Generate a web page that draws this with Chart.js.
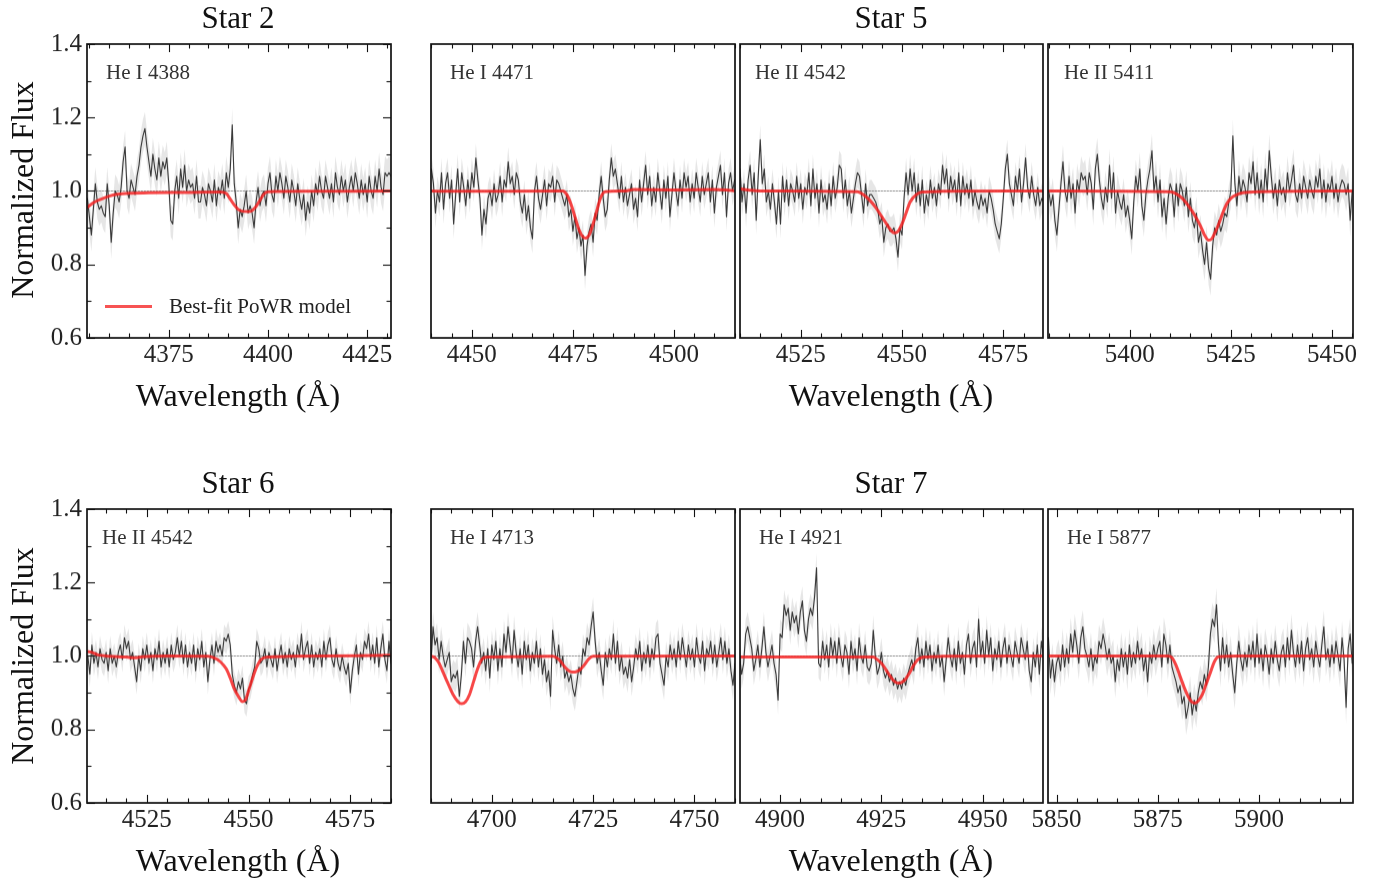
<!DOCTYPE html>
<html>
<head>
<meta charset="utf-8">
<script src="https://cdn.jsdelivr.net/npm/chart.js"></script>
<style>
  body { margin: 0; background: #fff; }
  #fig { position: relative; width: 1380px; height: 879px; overflow: hidden;
         font-family: 'Liberation Serif', 'DejaVu Serif', serif; color: #111; }
  #fig canvas { position: absolute; }
  .txt { position: absolute; white-space: nowrap; line-height: 1; }
  .title { font-size: 31px; transform: translateX(-50%); }
  .xlab { font-size: 32px; transform: translateX(-50%); }
  .ylab { font-size: 32px; transform: translate(-50%, -50%) rotate(-90deg); }
  .line { font-size: 21px; color: #333; }
  .legline { position: absolute; height: 3px; background: rgba(245, 40, 40, 0.8); }
</style>
</head>
<body>
<div id="fig"></div>
<script>
// ---- data ----
const STEP = 0.5; // Å between observed samples
const obsStart = [4354.5, 4440, 4510, 5380, 4510.5, 4685, 4890, 5848];
const xMin = [4354.4, 4439.9, 4510.0, 5379.8, 4510.3, 4685.0, 4890.1, 5847.9];
const xMax = [4431.0, 4515.1, 4584.8, 5455.2, 4585.0, 4760.0, 4964.9, 5923.2];
const xTicks = [
  [4375, 4400, 4425], [4450, 4475, 4500], [4525, 4550, 4575], [5400, 5425, 5450],
  [4525, 4550, 4575], [4700, 4725, 4750], [4900, 4925, 4950], [5850, 5875, 5900]
];
const yTicks = [0.6, 0.8, 1.0, 1.2, 1.4];
const lineNames = ['He I 4388', 'He I 4471', 'He II 4542', 'He II 5411',
                   'He II 4542', 'He I 4713', 'He I 4921', 'He I 5877'];
const starNames = ['Star 2', 'Star 5', 'Star 6', 'Star 7'];
const bandHalf = [0.045, 0.04, 0.04, 0.045, 0.035, 0.04, 0.04, 0.045];

// Star 2, He I 4388
const flux1 = [
  0.98, 0.93, 0.88, 0.95, 1.02, 0.97, 0.95, 0.96, 0.94, 0.93,
  1.02, 0.96, 0.86, 0.94, 1.00, 0.99, 0.97, 1.01, 1.08, 1.12,
  1.00, 0.98, 1.03, 1.01, 0.99, 1.04, 1.07, 1.12, 1.15, 1.17,
  1.12, 1.08, 1.04, 1.10, 1.06, 1.03, 1.09, 1.04, 1.08, 1.06,
  1.09, 1.02, 0.92, 0.91, 1.00, 1.04, 0.98, 1.06, 1.01, 1.07,
  1.00, 1.03, 1.01, 1.02, 0.98, 1.04, 0.97, 0.97, 1.01, 0.99,
  0.96, 1.02, 1.00, 0.97, 1.03, 0.96, 1.01, 0.99, 1.03, 0.98,
  1.05, 1.01, 1.06, 1.18, 1.02, 0.97, 0.90, 0.95, 0.93, 0.96,
  1.00, 0.94, 0.96, 0.94, 0.90, 0.97, 1.01, 0.96, 0.99, 1.00,
  0.96, 1.02, 1.05, 0.99, 0.97, 1.04, 1.00, 1.05, 1.02, 0.98,
  1.04, 1.01, 0.97, 1.03, 1.00, 0.96, 1.02, 0.98, 0.95, 0.99,
  0.92, 0.97, 0.94, 1.00, 0.96, 1.02, 0.99, 1.04, 1.00, 0.98,
  1.04, 1.01, 0.98, 1.02, 0.97, 1.05, 1.01, 0.99, 1.04, 1.00,
  1.03, 0.97, 1.01, 1.04, 1.00, 1.05, 1.02, 0.98, 1.03, 0.99,
  1.02, 0.97, 1.04, 1.00, 0.98, 1.04, 1.00, 1.06, 1.01, 0.99,
  1.05, 1.04, 1.05, 1.04
];
const modelWl1 = [4354.4, 4356, 4358, 4360, 4362, 4365, 4370, 4380, 4388, 4389.5, 4390.5,
  4391.5, 4392.5, 4393.5, 4395, 4396, 4397, 4398, 4399, 4400, 4410, 4431];
const modelFlux1 = [0.955, 0.968, 0.978, 0.986, 0.991, 0.994, 0.995, 0.996, 0.997, 0.993, 0.978,
  0.962, 0.950, 0.945, 0.944, 0.947, 0.958, 0.975, 0.992, 0.998, 0.999, 1.0];

// Star 5, He I 4471
const flux2 = [
  1.06, 1.02, 0.94, 1.00, 0.97, 1.05, 0.95, 1.02, 1.05, 0.98,
  1.03, 0.91, 0.99, 1.06, 0.97, 1.05, 1.01, 0.96, 1.03, 0.98,
  1.05, 1.01, 1.09, 1.03, 0.98, 0.88, 0.95, 0.91, 0.98, 1.00,
  0.96, 1.02, 0.97, 0.99, 1.04, 0.97, 1.03, 1.01, 1.08, 1.02,
  1.04, 0.99, 1.05, 1.03, 0.97, 0.94, 0.99, 0.92, 0.96, 0.90,
  0.87, 1.00, 1.04, 0.98, 0.95, 0.99, 1.03, 0.96, 1.02, 1.01,
  1.04, 0.97, 1.03, 1.02, 1.00, 0.98, 0.96, 0.99, 0.93, 0.95,
  0.89, 0.93, 0.87, 0.90, 0.85, 0.88, 0.77, 0.85, 0.89, 0.91,
  0.86, 0.94, 0.92, 0.99, 1.04, 0.98, 0.93, 0.95, 1.03, 1.09,
  1.04, 1.06, 1.02, 0.98, 1.04, 0.97, 1.01, 0.96, 0.99, 1.02,
  0.95, 0.98, 0.93, 1.03, 0.97, 1.02, 1.07, 0.99, 1.04, 0.96,
  1.01, 0.97, 1.05, 1.00, 0.95, 1.03, 0.98, 1.04, 0.93, 0.99,
  1.05, 1.00, 0.96, 1.03, 0.98, 1.05, 1.01, 1.04, 0.97, 1.02,
  0.98, 1.05, 1.01, 0.97, 1.04, 0.99, 1.02, 1.05, 0.97, 1.03,
  0.94, 1.01, 1.04, 1.07, 0.99, 1.05, 0.93, 1.02, 1.05, 1.00,
  1.03
];
const modelWl2 = [4439.9, 4445, 4472.5, 4473.5, 4474.5, 4475.5, 4476.5, 4477.5, 4478.2, 4479,
  4480, 4481, 4482, 4483, 4488, 4490, 4500, 4510, 4513, 4515.1];
const modelFlux2 = [1.0, 0.999, 1.0, 0.99, 0.965, 0.93, 0.895, 0.875, 0.872, 0.88,
  0.91, 0.95, 0.985, 0.998, 1.0, 1.004, 1.003, 1.004, 1.003, 1.0];

// Star 5, He II 4542
const flux3 = [
  1.06, 0.97, 1.02, 0.94, 1.03, 1.07, 0.99, 1.05, 0.92, 1.04,
  1.14, 1.02, 1.06, 0.97, 1.00, 0.95, 1.02, 0.97, 0.91, 1.00,
  0.91, 1.04, 0.97, 1.03, 0.96, 1.02, 1.00, 0.97, 1.04, 0.98,
  1.02, 0.95, 1.01, 0.99, 1.05, 0.96, 1.06, 0.98, 1.02, 0.94,
  1.03, 0.97, 0.99, 0.95, 1.02, 0.96, 1.04, 0.98, 1.01, 1.07,
  1.06, 0.98, 1.03, 0.96, 1.00, 0.94, 0.98, 1.02, 1.05, 1.04,
  0.99, 0.94, 1.02, 0.96, 0.99, 0.99, 0.98, 0.97, 0.95, 0.91,
  0.93, 0.86, 0.90, 0.91, 0.89, 0.89, 0.90, 0.87, 0.82, 0.90,
  0.88, 0.98, 1.05, 0.99, 1.06, 1.00, 1.05, 0.97, 1.02, 0.96,
  1.03, 0.94, 0.99, 0.96, 1.03, 0.98, 1.01, 0.96, 1.02, 0.99,
  1.07, 1.02, 1.06, 0.98, 1.04, 1.00, 1.03, 0.97, 1.05, 0.96,
  1.04, 0.99, 1.02, 0.98, 1.03, 0.96, 1.00, 0.97, 0.95, 0.99,
  0.96, 0.98, 0.94, 1.00, 0.98, 0.95, 0.91, 0.89, 0.87, 0.91,
  0.98, 1.06, 1.10, 1.02, 0.99, 0.96, 1.04, 1.00, 1.06, 0.97,
  1.02, 1.09, 1.01, 0.98, 1.04, 0.99, 0.96, 1.01, 0.96, 0.98,
  0.97
];
const modelWl3 = [4510, 4512, 4515, 4539, 4540.5, 4542, 4543.5, 4545, 4546.5, 4547.5, 4548.2,
  4549, 4550, 4551, 4552, 4553.5, 4555, 4560, 4584.8];
const modelFlux3 = [1.006, 1.003, 1.0, 0.998, 0.99, 0.975, 0.955, 0.93, 0.905, 0.89, 0.886,
  0.89, 0.91, 0.94, 0.97, 0.99, 0.997, 0.999, 1.0];

// Star 5, He II 5411
const flux4 = [
  1.00, 0.96, 0.99, 0.92, 0.88, 0.95, 1.02, 1.08, 1.00, 0.97,
  1.04, 0.98, 1.02, 0.94, 1.03, 1.00, 1.05, 1.03, 1.04, 0.99,
  1.05, 1.02, 0.95, 1.06, 1.10, 1.03, 0.98, 0.95, 1.01, 0.97,
  1.07, 0.98, 1.05, 0.94, 1.00, 0.97, 0.95, 0.99, 0.93, 0.96,
  0.92, 0.87, 0.97, 1.04, 1.00, 1.06, 0.96, 0.92, 0.99, 1.03,
  1.06, 1.11, 1.00, 1.04, 0.97, 1.03, 0.93, 0.98, 0.91, 0.98,
  1.02, 1.00, 0.93, 1.02, 0.96, 1.02, 1.00, 0.96, 1.01, 0.93,
  0.98, 0.92, 0.90, 0.94, 0.86, 0.89, 0.84, 0.80, 0.86, 0.79,
  0.76, 0.85, 0.90, 0.88, 0.92, 0.89, 0.91, 0.94, 0.93, 0.97,
  1.00, 1.15, 1.02, 0.96, 1.04, 0.99, 1.03, 1.01, 0.97, 1.05,
  1.02, 1.08, 0.99, 1.05, 0.98, 1.03, 0.97, 1.06, 1.00, 1.11,
  1.04, 0.98, 1.02, 0.96, 1.03, 0.99, 1.01, 0.97, 1.05, 1.00,
  1.03, 1.07, 0.99, 0.97, 1.02, 0.98, 1.04, 1.01, 0.98, 1.03,
  1.00, 0.98, 1.04, 1.01, 1.06, 0.98, 1.03, 0.97, 1.02, 1.00,
  1.04, 0.98, 1.02, 0.97, 1.01, 1.03, 1.02, 0.99, 1.02, 0.92,
  1.00
];
const modelWl4 = [5379.8, 5410, 5411.5, 5413, 5414.5, 5416, 5417.5, 5418.5, 5419.5, 5420.3,
  5421, 5422, 5423, 5424, 5425, 5426.5, 5428, 5432, 5455.2];
const modelFlux4 = [1.0, 0.998, 0.992, 0.98, 0.96, 0.935, 0.905, 0.88, 0.866, 0.87,
  0.885, 0.91, 0.94, 0.965, 0.98, 0.99, 0.995, 0.998, 1.0];

// Star 6, He II 4542
const flux5 = [
  1.00, 0.95, 1.03, 0.98, 1.01, 0.97, 1.02, 0.99, 0.98, 1.01,
  0.96, 1.02, 0.98, 1.00, 0.97, 1.01, 1.03, 0.99, 1.05, 1.02,
  1.04, 0.99, 1.01, 0.97, 0.93, 1.00, 0.96, 1.02, 0.99, 1.03,
  0.98, 1.01, 0.96, 1.02, 0.99, 1.04, 0.97, 1.01, 0.98, 1.02,
  0.97, 1.03, 0.99, 1.01, 1.05, 1.00, 1.04, 0.98, 1.03, 0.97,
  1.01, 0.98, 1.03, 0.96, 1.02, 0.99, 1.04, 0.97, 1.01, 0.93,
  0.99, 1.03, 0.98, 1.04, 1.01, 1.03, 1.00, 1.05, 1.04, 1.06,
  1.03, 0.95, 0.92, 0.90, 0.93, 0.91, 0.94, 0.88, 0.87, 0.91,
  0.92, 0.95, 0.97, 1.04, 1.02, 0.98, 0.99, 1.02, 0.97, 1.01,
  0.99, 0.97, 1.02, 0.96, 1.00, 1.03, 0.98, 1.01, 0.97, 1.02,
  0.99, 1.01, 0.97, 1.03, 1.00, 1.06, 0.99, 1.02, 1.04, 0.98,
  1.03, 0.97, 1.01, 0.99, 1.02, 0.97, 1.04, 0.99, 1.03, 1.05,
  0.99, 0.97, 1.02, 0.98, 0.96, 1.00, 0.97, 0.95, 0.98, 0.90,
  0.96, 1.00, 1.03, 0.95, 1.01, 0.99, 1.04, 1.02, 1.06, 0.99,
  1.03, 0.98, 1.05, 0.97, 1.02, 1.06, 0.99, 0.96, 1.04, 0.98
];
const modelWl5 = [4510.3, 4511.5, 4513, 4515, 4520, 4522, 4524, 4530, 4540, 4541.5, 4543,
  4544.5, 4545.5, 4546.5, 4547.5, 4548.5, 4549.2, 4550, 4551, 4552, 4553, 4554.5, 4560, 4585];
const modelFlux5 = [1.012, 1.01, 1.003, 1.0, 0.997, 0.995, 0.998, 1.0, 0.999, 0.995, 0.985,
  0.965, 0.94, 0.91, 0.89, 0.876, 0.88, 0.905, 0.94, 0.97, 0.99, 0.997, 0.999, 1.002];

// Star 7, He I 4713
const flux6 = [
  0.98, 1.08, 1.03, 1.05, 0.99, 1.04, 1.00, 0.97, 0.99, 1.01,
  0.93, 0.95, 0.94, 0.96, 0.89, 0.95, 1.04, 0.98, 1.05, 1.04,
  1.02, 0.97, 1.04, 1.08, 1.03, 0.98, 1.01, 0.96, 1.02, 0.94,
  1.03, 0.99, 1.04, 0.96, 1.02, 0.97, 1.06, 1.01, 1.08, 1.03,
  0.98, 1.07, 1.01, 0.97, 1.02, 0.95, 1.04, 0.99, 1.03, 0.96,
  1.01, 0.98, 1.04, 0.97, 1.02, 0.95, 0.99, 0.93, 0.96, 0.89,
  1.07, 1.02, 0.98, 1.03, 0.97, 1.00, 0.94, 0.96, 0.93, 0.95,
  0.91, 0.89, 0.93, 0.97, 0.95, 1.02, 1.00, 1.05, 1.03, 1.08,
  1.12, 1.04, 0.98, 1.01, 0.96, 0.92, 1.01, 0.97, 1.02, 0.99,
  1.06, 0.98, 1.04, 0.96, 1.00, 0.95, 0.97, 0.94, 0.99, 0.93,
  0.97, 1.02, 0.99, 1.04, 0.96, 1.01, 0.98, 1.03, 0.97, 1.02,
  0.99, 1.05, 1.06, 0.98, 0.95, 0.92, 1.00, 0.97, 1.03, 0.99,
  1.02, 0.97, 1.04, 0.99, 1.05, 1.01, 0.97, 1.03, 0.99, 1.02,
  0.97, 1.05, 1.00, 0.98, 1.04, 0.96, 1.02, 1.00, 1.04, 0.98,
  1.03, 0.97, 1.01, 1.05, 0.99, 1.04, 0.98, 1.02, 0.96, 0.92,
  0.98
];
const modelWl6 = [4685, 4686, 4687, 4688, 4689, 4690, 4691, 4692, 4692.6, 4693.5, 4694.5, 4695.5,
  4696.5, 4697.5, 4699, 4705, 4715, 4716, 4717, 4718, 4719, 4720, 4721, 4722, 4723, 4724, 4725, 4760];
const modelFlux6 = [1.0, 0.995, 0.98, 0.955, 0.93, 0.905, 0.885, 0.872, 0.87, 0.875, 0.895, 0.93,
  0.965, 0.99, 0.997, 0.998, 0.999, 0.995, 0.985, 0.97, 0.96, 0.956, 0.958, 0.965, 0.978, 0.993, 0.999, 1.0];

// Star 7, He I 4921
const flux7 = [
  1.00, 0.95, 0.98, 1.06, 1.08, 1.05, 1.02, 0.96, 0.99, 1.03,
  0.97, 1.02, 1.08, 1.01, 0.97, 1.00, 1.03, 0.98, 0.95, 0.88,
  1.06, 1.05, 1.14, 1.11, 1.13, 1.07, 1.12, 1.09, 1.11, 1.06,
  1.12, 1.15, 1.07, 1.04, 1.10, 1.13, 1.11, 1.16, 1.24, 0.98,
  0.97, 1.04, 0.99, 1.03, 0.97, 1.05, 1.00, 1.04, 0.98, 1.05,
  1.00, 0.97, 1.03, 1.01, 0.95, 1.04, 0.99, 1.02, 0.96, 1.05,
  1.00, 0.98, 1.03, 0.97, 0.96, 0.98, 1.07, 1.00, 0.95, 0.97,
  1.01, 0.96, 0.94, 0.96, 0.93, 0.95, 0.92, 0.94, 0.91, 0.93,
  0.91, 0.94, 0.92, 0.95, 0.97, 0.99, 0.96, 1.02, 1.05, 0.98,
  1.02, 0.97, 1.04, 0.99, 1.03, 0.96, 1.01, 0.98, 1.03, 0.97,
  1.00, 0.93, 0.99, 1.05, 1.00, 0.97, 1.02, 0.96, 1.04, 0.98,
  1.01, 0.95, 1.03, 1.06, 0.98, 1.02, 1.04, 0.97, 1.10, 1.00,
  1.04, 0.98, 1.07, 1.00, 1.05, 0.96, 1.02, 0.99, 1.04, 0.97,
  1.02, 1.05, 0.98, 1.03, 1.00, 0.97, 1.04, 1.01, 0.98, 1.05,
  1.02, 0.99, 1.04, 0.96, 0.93, 1.01, 0.97, 1.03, 0.95, 1.04,
  1.00
];
const modelWl7 = [4890.1, 4923, 4924, 4925, 4926, 4927, 4928, 4929, 4929.8, 4930.8, 4932, 4933,
  4934, 4935.5, 4940, 4964.9];
const modelFlux7 = [0.997, 0.997, 0.99, 0.98, 0.965, 0.948, 0.933, 0.926, 0.927, 0.935, 0.955, 0.975,
  0.99, 0.997, 0.999, 1.0];

// Star 7, He I 5877
const flux8 = [
  1.05, 0.94, 0.99, 0.93, 0.98, 1.00, 0.96, 1.03, 0.97, 1.02,
  0.98, 1.06, 1.01, 1.07, 1.03, 0.98, 1.05, 1.08, 1.02, 1.00,
  0.97, 1.02, 0.96, 1.00, 0.98, 1.04, 1.02, 1.06, 1.03, 0.99,
  1.02, 0.98, 1.00, 0.93, 0.99, 0.96, 1.02, 0.97, 1.01, 0.95,
  1.03, 0.97, 1.01, 0.98, 1.04, 0.99, 1.02, 0.96, 1.00, 0.93,
  1.01, 0.98, 1.03, 0.99, 1.02, 1.04, 0.97, 1.06, 1.03, 0.98,
  1.03, 0.97, 0.95, 0.93, 0.90, 0.92, 0.87, 0.89, 0.83, 0.86,
  0.90, 0.84, 0.88, 0.85, 0.90, 0.93, 0.91, 0.95, 0.92, 0.97,
  1.06, 1.10, 1.08, 1.14, 1.03, 0.96, 1.05, 0.98, 1.03, 0.97,
  1.01, 0.95, 0.90, 0.98, 1.04, 0.99, 0.96, 1.01, 0.97, 1.03,
  0.99, 1.04, 0.97, 1.06, 0.98, 1.02, 0.96, 1.03, 1.00, 0.95,
  1.02, 0.98, 1.04, 0.99, 0.96, 1.01, 1.03, 0.97, 1.05, 0.99,
  1.07, 1.01, 0.97, 1.03, 0.98, 1.04, 0.96, 1.02, 1.05, 0.99,
  1.02, 0.97, 1.04, 1.00, 0.97, 1.03, 1.08, 0.99, 1.02, 0.97,
  1.03, 0.98, 1.04, 1.00, 0.96, 1.05, 0.99, 0.86, 1.02, 1.06,
  0.98
];
const modelWl8 = [5847.9, 5877.5, 5878.5, 5879.5, 5880.5, 5881.5, 5882.5, 5883.5, 5884.2, 5885,
  5886, 5887, 5888, 5889, 5890, 5895, 5923.2];
const modelFlux8 = [1.0, 1.0, 0.995, 0.975, 0.945, 0.915, 0.89, 0.874, 0.872, 0.878,
  0.895, 0.925, 0.955, 0.985, 0.998, 1.0, 1.0];

const fluxes = [flux1, flux2, flux3, flux4, flux5, flux6, flux7, flux8];
const modelWls = [modelWl1, modelWl2, modelWl3, modelWl4, modelWl5, modelWl6, modelWl7, modelWl8];
const modelFluxes = [modelFlux1, modelFlux2, modelFlux3, modelFlux4, modelFlux5, modelFlux6, modelFlux7, modelFlux8];

// ---- layout ----
const FONT = "'Liberation Serif', 'DejaVu Serif', serif";
const colLeft = [87, 431, 740, 1048];
const colRight = [391, 735, 1043, 1353];
const rowTop = [44, 509];
const rowBottom = [337.5, 802.5];
const PAD_T = 16, PAD_R = 34, AXIS_H = 44;

const fig = document.getElementById('fig');

// inward ticks on the frame + the frame itself
const frameTicks = {
  id: 'frameTicks',
  afterDraw(chart, args, opts) {
    const { ctx, chartArea: a, scales: { x, y } } = chart;
    ctx.save();
    ctx.strokeStyle = '#111';
    ctx.lineWidth = 1.1;
    const seg = (x0, y0, x1, y1) => { ctx.beginPath(); ctx.moveTo(x0, y0); ctx.lineTo(x1, y1); ctx.stroke(); };
    for (let v = Math.ceil(x.min / 5) * 5; v <= x.max; v += 5) {
      const px = Math.round(x.getPixelForValue(v)) + 0.5;
      const len = v % 25 === 0 ? 8 : 4.5;
      seg(px, a.top, px, a.top + len);
      seg(px, a.bottom, px, a.bottom - len);
    }
    if (opts.yTicks) {
      for (let k = 6; k <= 14; k++) {
        const py = Math.round(y.getPixelForValue(k / 10)) + 0.5;
        const len = k % 2 === 0 ? 8 : 4.5;
        seg(a.left, py, a.left + len, py);
        seg(a.right, py, a.right - len, py);
      }
    }
    ctx.lineWidth = 1.7;
    ctx.strokeRect(a.left, a.top, a.right - a.left, a.bottom - a.top);
    ctx.restore();
  }
};

function makePanel(i) {
  const row = Math.floor(i / 4), col = i % 4;
  const first = col === 0;
  const padL = first ? colLeft[0] : 34;
  const left = colLeft[col] - padL;
  const top = rowTop[row] - PAD_T;
  const w = padL + (colRight[col] - colLeft[col]) + PAD_R;
  const h = PAD_T + (rowBottom[row] - rowTop[row]) + AXIS_H;

  const cv = document.createElement('canvas');
  cv.width = w; cv.height = h;
  cv.style.left = left + 'px'; cv.style.top = top + 'px';
  cv.style.width = w + 'px'; cv.style.height = h + 'px';
  fig.appendChild(cv);

  const obs = fluxes[i].map((f, k) => ({ x: obsStart[i] + k * STEP, y: f }));
  const hi = obs.map(p => ({ x: p.x, y: p.y + bandHalf[i] }));
  const lo = obs.map(p => ({ x: p.x, y: p.y - bandHalf[i] }));
  const model = modelWls[i].map((wl, k) => ({ x: wl, y: modelFluxes[i][k] }));
  const unity = [{ x: xMin[i], y: 1 }, { x: xMax[i], y: 1 }];

  new Chart(cv, {
    type: 'line',
    data: {
      datasets: [
        { data: model, borderColor: 'rgba(245, 30, 30, 0.82)', borderWidth: 3,
          cubicInterpolationMode: 'monotone', order: 0 },
        { data: obs, borderColor: '#3a3a3a', borderWidth: 1.1, tension: 0, order: 1 },
        { data: unity, borderColor: '#777', borderWidth: 0.8, borderDash: [1.5, 1.5], order: 2 },
        { data: hi, borderWidth: 0, fill: '+1', backgroundColor: 'rgba(200, 200, 200, 0.45)', order: 3 },
        { data: lo, borderWidth: 0, fill: false, order: 4 }
      ]
    },
    options: {
      responsive: false,
      animation: false,
      devicePixelRatio: 1,
      events: [],
      layout: { padding: { top: PAD_T, right: PAD_R, left: 0, bottom: 0 } },
      elements: { point: { radius: 0 }, line: { borderCapStyle: 'round', borderJoinStyle: 'round' } },
      plugins: { legend: { display: false }, tooltip: { enabled: false }, frameTicks: { yTicks: first } },
      scales: {
        x: {
          type: 'linear', min: xMin[i], max: xMax[i],
          grid: { display: false, drawTicks: false }, border: { display: false },
          afterBuildTicks: s => { s.ticks = xTicks[i].map(v => ({ value: v })); },
          afterFit: s => { s.height = AXIS_H; s.paddingLeft = 0; s.paddingRight = 0; },
          ticks: { color: '#222', padding: 2, maxRotation: 0, autoSkip: false,
                   font: { family: FONT, size: 25 }, callback: v => String(v) }
        },
        y: {
          min: 0.6, max: 1.4,
          grid: { display: false, drawTicks: false }, border: { display: false },
          afterBuildTicks: s => { s.ticks = yTicks.map(v => ({ value: v })); },
          afterFit: s => { s.width = padL; s.paddingTop = 0; s.paddingBottom = 0; },
          ticks: { display: first, color: '#222', padding: 5,
                   font: { family: FONT, size: 25 }, callback: v => v.toFixed(1) }
        }
      }
    },
    plugins: [frameTicks]
  });
}

for (let i = 0; i < 8; i++) makePanel(i);

// ---- text ----
function addText(cls, text, x, y) {
  const d = document.createElement('div');
  d.className = 'txt ' + cls;
  d.textContent = text;
  d.style.left = x + 'px';
  d.style.top = y + 'px';
  fig.appendChild(d);
  return d;
}
const starCenter = [238, 891];
for (let r = 0; r < 2; r++) {
  addText('title', starNames[r * 2], starCenter[0], 2 + r * 465);
  addText('title', starNames[r * 2 + 1], starCenter[1], 2 + r * 465);
  addText('xlab', 'Wavelength (Å)', starCenter[0], 379 + r * 465);
  addText('xlab', 'Wavelength (Å)', starCenter[1], 379 + r * 465);
  addText('ylab', 'Normalized Flux', 22, 190 + r * 466);
}
const lineLabelX = [106, 450, 755, 1064, 102, 450, 759, 1067];
lineNames.forEach((t, i) => addText('line', t, lineLabelX[i], i < 4 ? 62 : 527));

// legend in the first panel
const leg = document.createElement('div');
leg.className = 'legline';
leg.style.left = '105px'; leg.style.top = '305px'; leg.style.width = '47px';
fig.appendChild(leg);
addText('line', 'Best-fit PoWR model', 169, 296).style.color = '#222';
</script>
</body>
</html>
